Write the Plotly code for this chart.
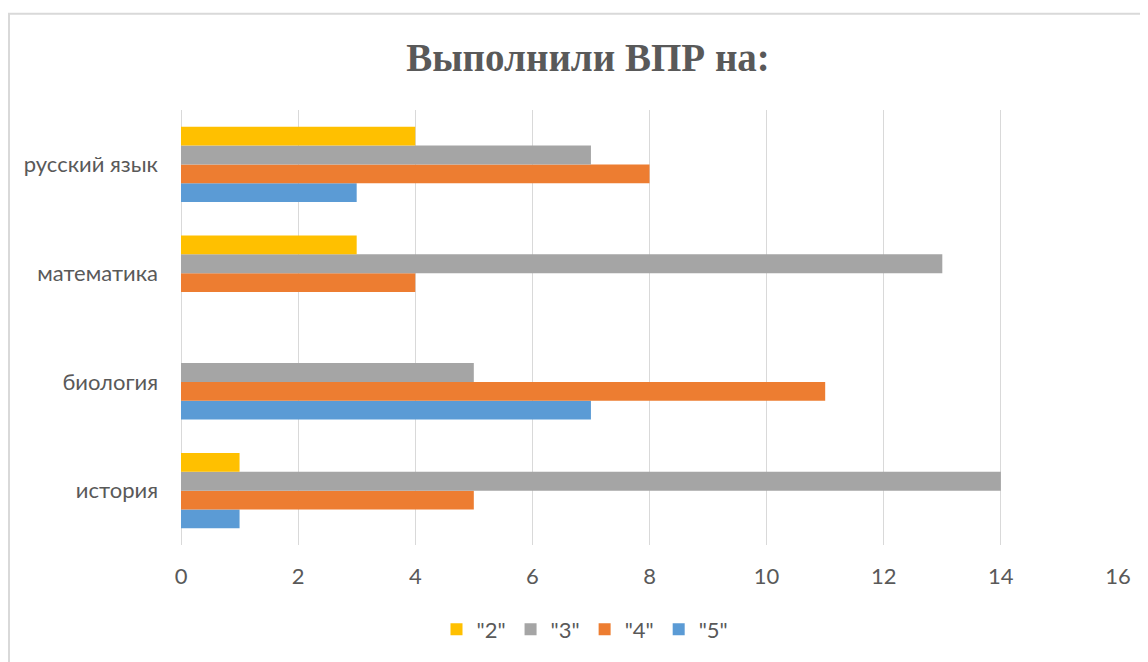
import plotly.graph_objects as go

categories = ["история", "биология", "математика", "русский язык"]
series_names = ['"2"', '"3"', '"4"', '"5"']
values_2 = [1, 0, 3, 4]
values_3 = [14, 5, 13, 7]
values_4 = [5, 11, 4, 8]
values_5 = [1, 7, 0, 3]
colors = ["#FFC000", "#A5A5A5", "#ED7D31", "#5B9BD5"]
x_ticks = [0, 2, 4, 6, 8, 10, 12, 14, 16]

all_vals = [values_2, values_3, values_4, values_5]

fig = go.Figure()
# add in reverse so that "2" sits at the top of each group
for name, vals, col in reversed(list(zip(series_names, all_vals, colors))):
    fig.add_trace(go.Bar(
        y=categories, x=vals, name=name, orientation="h",
        marker=dict(color=col, line=dict(width=0)),
    ))

text_color = "#595959"
grid_color = "#D9D9D9"

# page body has an 8px margin; figure placed at (8,8)
W, H = 1140, 654
L, T, R, B = 173, 102, 30, 114
PW = W - L - R
PH = H - T - B


def px_x(x):  # page x -> paper x
    return (x - 8 - L) / PW


def px_y(y):  # page y -> paper y
    return (H - B - (y - 8)) / PH


fig.update_layout(
    width=W, height=H,
    margin=dict(l=L, r=R, t=T, b=B),
    paper_bgcolor="white", plot_bgcolor="white",
    barmode="group", bargap=0.31, bargroupgap=0,
    font=dict(family="Lato, Open Sans, sans-serif", size=22, color=text_color),
    title=dict(text="<b>Выполнили ВПР на:</b>", x=px_x(588), xref="paper", xanchor="center",
               y=1 - (57 - 8) / H, yanchor="middle",
               font=dict(family="Liberation Serif, Times New Roman, serif", size=39, color=text_color)),
    legend=dict(orientation="h", traceorder="reversed", x=px_x(585), xanchor="center",
                y=px_y(633), yanchor="middle", font=dict(size=22, color=text_color),
                itemwidth=30),
    xaxis=dict(range=[0, 16], tickvals=x_ticks, showgrid=True, gridcolor=grid_color, gridwidth=1,
               zeroline=True, zerolinecolor=grid_color, zerolinewidth=1, showline=False,
               ticklabelstandoff=16, tickfont=dict(size=22, color=text_color), fixedrange=True),
    yaxis=dict(showgrid=False, zeroline=False, showline=False, ticklabelstandoff=22,
               tickfont=dict(size=22, color=text_color)),
    shapes=[dict(type="rect", xref="paper", yref="paper",
                 x0=px_x(9), x1=px_x(1170),
                 y0=px_y(700), y1=px_y(13),
                 line=dict(color="#D9D9D9", width=2), fillcolor="rgba(0,0,0,0)", layer="below")],
)

fig.write_html("out.html")
